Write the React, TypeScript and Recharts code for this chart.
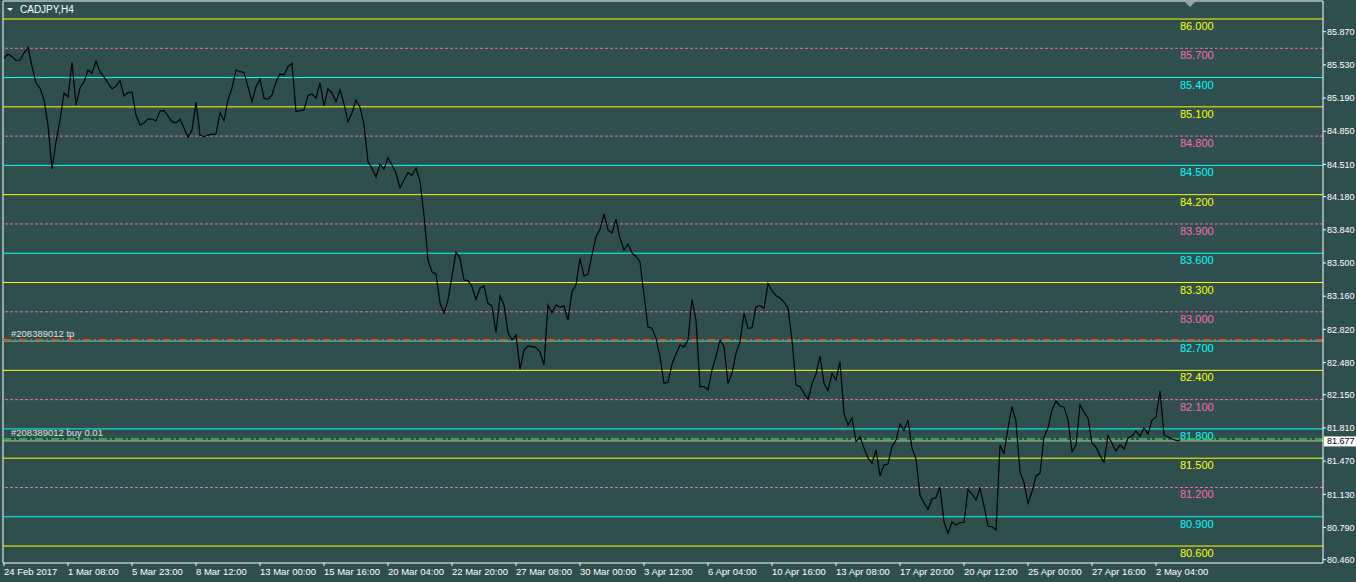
import React from 'react';
import { ComposedChart, Line, XAxis, YAxis, ReferenceLine } from 'recharts';

// H4 closes, CADJPY, 24 Feb 2017 -> 2 May 2017
const closes = [
  85.597, 85.641, 85.614, 85.575, 85.58, 85.652, 85.71, 85.511, 85.344, 85.293,
  85.17, 84.914, 84.463, 84.74, 84.965, 85.242, 85.201, 85.556, 85.119, 85.293,
  85.355, 85.477, 85.444, 85.57, 85.46, 85.406, 85.344, 85.283, 85.314, 85.368,
  85.211, 85.245, 85.252, 85.016, 84.914, 84.934, 84.975, 84.975, 84.958, 85.057,
  85.06, 85.006, 84.948, 84.937, 84.972, 84.883, 84.788, 84.863, 85.147, 84.811,
  84.794, 84.811, 84.817, 84.819, 85.04, 84.958, 85.17, 85.293, 85.477, 85.46,
  85.452, 85.306, 85.153, 85.306, 85.382, 85.188, 85.177, 85.221, 85.355, 85.436,
  85.426, 85.511, 85.546, 85.05, 85.06, 85.068, 85.216, 85.232, 85.188, 85.347,
  85.109, 85.283, 85.245, 85.153, 85.273, 85.129, 84.948, 85.037, 85.17, 85.095,
  84.914, 84.535, 84.473, 84.381, 84.514, 84.463, 84.576, 84.504, 84.422, 84.268,
  84.35, 84.425, 84.397, 84.473, 84.333, 83.992, 83.531, 83.408, 83.387, 83.09,
  82.985, 83.121, 83.367, 83.613, 83.548, 83.326, 83.319, 83.257, 83.128, 83.241,
  83.264, 83.087, 83.059, 82.786, 83.162, 83.07, 82.786, 82.711, 82.762, 82.411,
  82.609, 82.65, 82.644, 82.634, 82.588, 82.455, 83.07, 82.988, 83.07, 83.049,
  83.059, 82.916, 83.206, 83.275, 83.548, 83.367, 83.387, 83.582, 83.77, 83.845,
  84.002, 83.838, 83.807, 83.948, 83.753, 83.633, 83.695, 83.602, 83.567, 83.51,
  83.172, 82.844, 82.831, 82.728, 82.54, 82.267, 82.278, 82.465, 82.568, 82.66,
  82.639, 82.711, 83.128, 82.916, 82.233, 82.233, 82.199, 82.404, 82.54, 82.711,
  82.642, 82.267, 82.37, 82.575, 82.694, 82.985, 82.831, 82.836, 83.049, 83.064,
  83.036, 83.292, 83.213, 83.167, 83.141, 83.1, 83.039, 82.711, 82.25, 82.233,
  82.168, 82.103, 82.26, 82.363, 82.547, 82.267, 82.192, 82.37, 82.301, 82.489,
  81.96, 81.84, 81.912, 81.669, 81.717, 81.604, 81.502, 81.448, 81.584, 81.318,
  81.43, 81.441, 81.618, 81.686, 81.85, 81.782, 81.891, 81.604, 81.489, 81.123,
  81.041, 80.976, 81.082, 81.097, 81.202, 80.846, 80.731, 80.846, 80.816, 80.839,
  80.843, 81.181, 81.133, 81.072, 81.192, 81.01, 80.805, 80.798, 80.764, 81.635,
  81.55, 81.809, 82.028, 81.874, 81.359, 81.249, 81.038, 81.157, 81.318, 81.345,
  81.72, 81.809, 81.994, 82.086, 82.035, 82.025, 81.891, 81.567, 81.635, 82.045,
  81.973, 81.912, 81.653, 81.615, 81.523, 81.461, 81.73, 81.653, 81.574, 81.635,
  81.594, 81.704, 81.727, 81.779, 81.727, 81.809, 81.748, 81.891, 81.922, 82.189,
  81.738, 81.72, 81.697, 81.682, 81.677,
];

const timeTicks = [0, 16, 32, 48, 64, 80, 96, 112, 128, 144, 160, 176, 192, 208, 224, 240, 256, 272, 288];
const timeLabels = [
  '24 Feb 2017', '1 Mar 08:00', '5 Mar 23:00', '8 Mar 12:00', '13 Mar 00:00', '15 Mar 16:00',
  '20 Mar 04:00', '22 Mar 20:00', '27 Mar 08:00', '30 Mar 00:00', '3 Apr 12:00', '6 Apr 04:00',
  '10 Apr 16:00', '13 Apr 08:00', '17 Apr 20:00', '20 Apr 12:00', '25 Apr 00:00', '27 Apr 16:00',
  '2 May 04:00',
];

const priceTicks = [
  85.87, 85.53, 85.19, 84.85, 84.51, 84.18, 83.84, 83.5, 83.16,
  82.82, 82.48, 82.15, 81.81, 81.47, 81.13, 80.79, 80.46,
];

// horizontal levels drawn on the chart, every 30 pips
const levels = [
  86.0, 85.7, 85.4, 85.1, 84.8, 84.5, 84.2, 83.9, 83.6, 83.3,
  83.0, 82.7, 82.4, 82.1, 81.8, 81.5, 81.2, 80.9, 80.6,
];

const symbolTitle = 'CADJPY,H4';
const orderTicket = '#208389012';
const orderLots = 0.01;
const takeProfit = 82.711;
const openPrice = 81.697;
const bidPrice = 81.677;

const BG = '#2F4F4F';
const FG = '#FFFFFF';
const FONT = "'Liberation Sans', Arial, sans-serif";
const X_DOMAIN: [number, number] = [-0.25, 329.75];
const Y_DOMAIN: [number, number] = [80.4262, 86.1844];

// yellow solid / pink dotted / aqua solid, repeating
const levelStyles = [
  { stroke: '#FFFF00', dash: undefined as string | undefined },
  { stroke: '#FF69B4', dash: '3 2' },
  { stroke: '#00FFFF', dash: undefined as string | undefined },
];

const data = closes.map((close, bar) => ({ bar, close }));

function LevelLabel({ viewBox, text, color }: any) {
  if (!viewBox) return null;
  return (
    <text x={viewBox.x + viewBox.width - 143} y={viewBox.y + 11} fill={color} fontSize={11} fontFamily={FONT}>
      {text}
    </text>
  );
}

function OrderLabel({ viewBox, text }: any) {
  if (!viewBox) return null;
  return (
    <text x={viewBox.x + 8} y={viewBox.y - 3} fill="#E0E0E0" fontSize={9.5} fontFamily={FONT}>
      {text}
    </text>
  );
}

function BidLabel({ viewBox, text }: any) {
  if (!viewBox) return null;
  const x = viewBox.x + viewBox.width + 1;
  return (
    <g>
      <rect x={x} y={viewBox.y - 4.5} width={40} height={10} fill="#FFFFFF" />
      <text x={x + 3} y={viewBox.y + 3.5} fill="#000000" fontSize={9} fontFamily={FONT}>
        {text}
      </text>
    </g>
  );
}

function TimeTick({ x, y, payload }: any) {
  const label = timeLabels[timeTicks.indexOf(payload.value)];
  return (
    <text x={x} y={y} dy="0.71em" fill={FG} fontSize={9.5} fontFamily={FONT}>
      {label}
    </text>
  );
}

export default function App() {
  return (
    <div style={{ position: 'absolute', left: 0, top: 0, width: 1356, height: 582, background: BG, overflow: 'hidden' }}>
      <ComposedChart width={1356} height={582} data={data} margin={{ top: 1, right: 0, left: 3, bottom: 0 }}>
        <XAxis
          dataKey="bar"
          type="number"
          domain={X_DOMAIN}
          allowDataOverflow
          ticks={timeTicks}
          interval={0}
          height={19}
          tickSize={3}
          tickMargin={2}
          tick={<TimeTick />}
          axisLine={{ stroke: FG }}
          tickLine={{ stroke: FG }}
        />
        <YAxis
          orientation="right"
          type="number"
          width={33}
          domain={Y_DOMAIN}
          allowDataOverflow
          ticks={priceTicks}
          interval={0}
          tickSize={3}
          tickMargin={1}
          tickFormatter={(v: number) => v.toFixed(3)}
          tick={{ fill: FG, fontSize: 9, fontFamily: FONT }}
          axisLine={{ stroke: FG }}
          tickLine={{ stroke: FG }}
        />
        <ReferenceLine x={X_DOMAIN[0]} stroke={FG} ifOverflow="visible" />
        <ReferenceLine y={Y_DOMAIN[1]} stroke={FG} ifOverflow="visible" />
        {levels.map((price, i) => {
          const s = levelStyles[i % 3];
          return (
            <ReferenceLine
              key={price}
              y={price}
              stroke={s.stroke}
              strokeDasharray={s.dash}
              label={<LevelLabel text={price.toFixed(3)} color={s.stroke} />}
            />
          );
        })}
        <ReferenceLine
          y={takeProfit}
          stroke="#FF4500"
          strokeWidth={2}
          strokeDasharray="8 3 2 3"
          label={<OrderLabel text={`${orderTicket} tp`} />}
        />
        <ReferenceLine
          y={openPrice}
          stroke="#32CD32"
          strokeWidth={1.5}
          strokeDasharray="8 3 2 3"
          label={<OrderLabel text={`${orderTicket} buy ${orderLots.toFixed(2)}`} />}
        />
        <ReferenceLine y={bidPrice} stroke="#C0C0C0" label={<BidLabel text={bidPrice.toFixed(3)} />} />
        <Line
          type="linear"
          dataKey="close"
          stroke="#000000"
          strokeWidth={1.2}
          dot={false}
          activeDot={false}
          isAnimationActive={false}
        />
      </ComposedChart>
      <svg width={1356} height={20} style={{ position: 'absolute', left: 0, top: 0, pointerEvents: 'none' }}>
        <polygon points="7,8 13,8 10,11" fill={FG} />
        <text x={20} y={13} fill={FG} fontSize={10} fontFamily={FONT}>
          {symbolTitle}
        </text>
        <polygon points="1185,2 1195,2 1190,7" fill="#A0A0A0" />
      </svg>
    </div>
  );
}
